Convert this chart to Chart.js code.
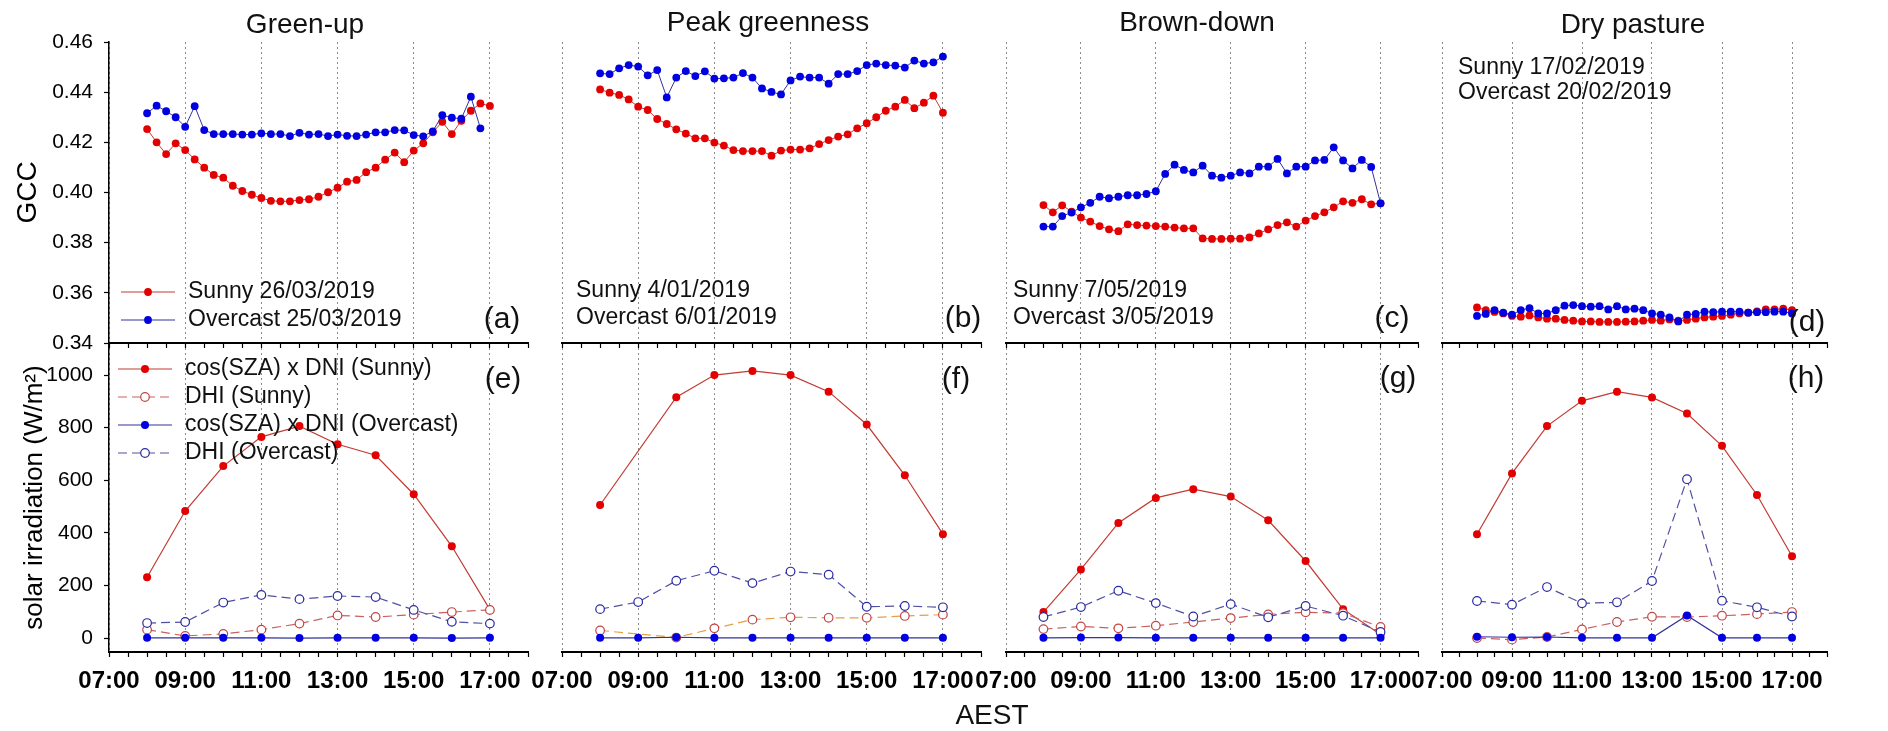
<!DOCTYPE html>
<html>
<head>
<meta charset="utf-8">
<title>GCC and solar irradiation</title>
<script src="https://cdn.jsdelivr.net/npm/chart.js@4.4.1/dist/chart.umd.min.js"></script>
<style>
  html, body { margin: 0; padding: 0; background: #fff; }
  #fig { position: relative; width: 1888px; height: 731px; overflow: hidden;
         font-family: "Liberation Sans", Arial, sans-serif; color: #111; }
  #fig canvas { position: absolute; }
  .lbl { position: absolute; white-space: nowrap; line-height: 1; transform: translate(-50%, -50%); }
</style>
</head>
<body>
<div id="fig">
  <div class="lbl" style="left:305px;top:24px;font-size:28px">Green-up</div>
  <div class="lbl" style="left:768px;top:22px;font-size:28px">Peak greenness</div>
  <div class="lbl" style="left:1197px;top:22px;font-size:28px">Brown-down</div>
  <div class="lbl" style="left:1633px;top:24px;font-size:28px">Dry pasture</div>

  <div class="lbl" style="left:502px;top:318px;font-size:30px">(a)</div>
  <div class="lbl" style="left:963px;top:317px;font-size:30px">(b)</div>
  <div class="lbl" style="left:1392px;top:317px;font-size:30px">(c)</div>
  <div class="lbl" style="left:1807px;top:321px;font-size:30px">(d)</div>
  <div class="lbl" style="left:503px;top:378px;font-size:30px">(e)</div>
  <div class="lbl" style="left:956px;top:378px;font-size:30px">(f)</div>
  <div class="lbl" style="left:1398px;top:377px;font-size:30px">(g)</div>
  <div class="lbl" style="left:1806px;top:377px;font-size:30px">(h)</div>

  <div class="lbl" style="left:992px;top:715px;font-size:28px">AEST</div>
</div>
<script>
const FONT = '"Liberation Sans", Arial, sans-serif';
Chart.defaults.font.family = FONT;
Chart.defaults.color = '#000';

// sampling times
const gccTimes = ['08:00','08:15','08:30','08:45','09:00','09:15','09:30','09:45',
  '10:00','10:15','10:30','10:45','11:00','11:15','11:30','11:45',
  '12:00','12:15','12:30','12:45','13:00','13:15','13:30','13:45',
  '14:00','14:15','14:30','14:45','15:00','15:15','15:30','15:45',
  '16:00','16:15','16:30','16:45','17:00'];
const hourTimes = ['08:00','09:00','10:00','11:00','12:00','13:00','14:00','15:00','16:00','17:00'];

// axis ticks
const tickLabels = ['07:00','09:00','11:00','13:00','15:00','17:00'];
const gccTicks = [0.34, 0.36, 0.38, 0.40, 0.42, 0.44, 0.46];
const irrTicks = [0, 200, 400, 600, 800, 1000];

const sunnyDates = ['26/03/2019', '4/01/2019', '7/05/2019', '17/02/2019'];
const overcastDates = ['25/03/2019', '6/01/2019', '3/05/2019', '20/02/2019'];

// GCC, green-up
const gccGreenSunny = [0.4253,0.4200,0.4153,0.4196,0.4169,0.4132,0.4099,0.4070,0.4059,0.4027,0.4006,0.3991,0.3978,0.3967,0.3965,0.3965,0.3970,0.3973,0.3983,0.4001,0.4019,0.4043,0.4050,0.4081,0.4099,0.4131,0.4159,0.4121,0.4167,0.4196,0.4240,0.4282,0.4233,0.4286,0.4326,0.4355,0.4345];
const gccGreenOvercast = [0.4316,0.4346,0.4324,0.4300,0.4262,0.4344,0.4249,0.4233,0.4233,0.4233,0.4231,0.4231,0.4236,0.4233,0.4233,0.4225,0.4238,0.4231,0.4233,0.4225,0.4231,0.4226,0.4225,0.4231,0.4240,0.4240,0.4249,0.4248,0.4229,0.4224,0.4244,0.4308,0.4298,0.4294,0.4382,0.4256,null];
// GCC, peak greenness
const gccPeakSunny = [0.4411,0.4398,0.4389,0.4371,0.4342,0.4329,0.4293,0.4273,0.4252,0.4235,0.4216,0.4216,0.4199,0.4187,0.4169,0.4165,0.4165,0.4165,0.4147,0.4167,0.4171,0.4171,0.4176,0.4193,0.4209,0.4223,0.4232,0.4256,0.4276,0.4300,0.4326,0.4342,0.4369,0.4336,0.4358,0.4386,0.4318];
const gccPeakOvercast = [0.4475,0.4472,0.4495,0.4508,0.4502,0.4467,0.4488,0.4379,0.4458,0.4484,0.4464,0.4483,0.4454,0.4455,0.4458,0.4476,0.4458,0.4415,0.4401,0.4391,0.4447,0.4462,0.4458,0.4458,0.4434,0.4472,0.4472,0.4484,0.4508,0.4514,0.4508,0.4506,0.4498,0.4526,0.4514,0.4519,0.4542];
// GCC, brown-down
const gccBrownSunny = [0.3950,0.3921,0.3949,0.3924,0.3900,0.3884,0.3866,0.3853,0.3846,0.3873,0.3870,0.3868,0.3866,0.3864,0.3860,0.3857,0.3857,0.3817,0.3815,0.3815,0.3816,0.3816,0.3821,0.3837,0.3853,0.3870,0.3881,0.3864,0.3888,0.3906,0.3921,0.3941,0.3965,0.3959,0.3973,0.3953,0.3957];
const gccBrownOvercast = [0.3864,0.3864,0.3906,0.3920,0.3941,0.3959,0.3983,0.3977,0.3983,0.3989,0.3989,0.3994,0.4005,0.4074,0.4111,0.4090,0.4080,0.4107,0.4067,0.4059,0.4067,0.4080,0.4076,0.4103,0.4103,0.4134,0.4076,0.4103,0.4103,0.4128,0.4130,0.4180,0.4128,0.4096,0.4130,0.4102,0.3957];
// GCC, dry pasture
const gccDrySunny = [0.3542,0.3531,0.3524,0.3518,0.3508,0.3505,0.3510,0.3502,0.3497,0.3497,0.3492,0.3489,0.3486,0.3486,0.3484,0.3484,0.3484,0.3485,0.3486,0.3489,0.3492,0.3489,0.3494,0.3489,0.3492,0.3497,0.3502,0.3505,0.3508,0.3513,0.3518,0.3521,0.3526,0.3534,0.3534,0.3537,0.3531];
const gccDryOvercast = [0.3508,0.3516,0.3531,0.3521,0.3513,0.3531,0.3539,0.3518,0.3518,0.3531,0.3549,0.3551,0.3547,0.3545,0.3547,0.3534,0.3547,0.3534,0.3537,0.3531,0.3518,0.3513,0.3502,0.3486,0.3513,0.3516,0.3525,0.3523,0.3525,0.3525,0.3525,0.3521,0.3523,0.3523,0.3525,0.3525,0.3518];

// solar irradiation (W/m2), hourly
const dniGreenSunny = [231,483,654,765,806,737,695,547,349,108];
const dhiGreenSunny = [32,8,16,32,55,86,80,89,99,107];
const dniGreenOvercast = [1,1,1,1,0,1,1,1,0,1];
const dhiGreenOvercast = [57,61,135,164,148,160,156,107,62,55];

const dniPeakSunny = [506,null,916,1000,1016,1000,937,812,619,395];
const dhiPeakSunny = [29,null,2,37,70,79,77,77,84,89];
const dniPeakOvercast = [1,1,3,1,1,1,1,1,1,1];
const dhiPeakOvercast = [110,137,218,256,209,253,241,119,122,117];

const dniBrownSunny = [99,261,438,533,566,538,448,293,110,14];
const dhiBrownSunny = [34,44,37,47,61,76,90,98,95,42];
const dniBrownOvercast = [1,2,2,1,1,1,1,1,1,1];
const dhiBrownOvercast = [80,118,180,133,82,129,79,122,85,23];

const dniDrySunny = [395,626,806,902,937,915,854,731,544,311];
const dhiDrySunny = [0,-6,4,33,61,81,80,85,91,99];
const dniDryOvercast = [5,3,4,1,1,1,86,1,1,1];
const dhiDryOvercast = [141,127,194,132,136,217,604,142,117,82];

// plot rectangles on the page
const cols = [
  {left: 109, right: 528},
  {left: 562, right: 981},
  {left: 1006, right: 1418},
  {left: 1442, right: 1827}
];
const rows = {
  gcc: {top: 42, bottom: 343},
  irr: {top: 343, bottom: 652}
};

const RED = '#e30000', RED_LINE = '#c23b32', RED_DASH = '#c86060', RED_RING = '#c04646';
const BLUE = '#0000e0', BLUE_LINE = '#33339a', BLUE_DASH = '#5050a2', BLUE_RING = '#2a2aa0';

function toHours(t) {
  const [h, m] = t.split(':').map(Number);
  return h + m / 60;
}
function pairs(times, values) {
  return times.map((t, i) => ({x: toHours(t), y: values[i]}));
}
function isMajor(v) {
  return Number.isInteger(v) && (v - 7) % 2 === 0 && v <= 17;
}

// legend / note text drawn inside the plot area
const insetLegend = {
  id: 'insetLegend',
  afterDraw(chart, args, opts) {
    if (!opts || !opts.display) return;
    const {ctx, chartArea} = chart;
    ctx.save();
    ctx.font = opts.font;
    ctx.textBaseline = 'middle';
    opts.rows.forEach((row, i) => {
      const y = chartArea.top + opts.y + i * opts.rowHeight;
      let tx = chartArea.left + opts.x;
      if (opts.markers) {
        const ds = chart.data.datasets[row];
        const x0 = tx, x1 = tx + opts.lineLength;
        ctx.save();
        ctx.strokeStyle = ds.borderColor;
        ctx.lineWidth = ds.borderWidth;
        ctx.setLineDash(ds.borderDash || []);
        ctx.beginPath(); ctx.moveTo(x0, y); ctx.lineTo(x1, y); ctx.stroke();
        ctx.setLineDash([]);
        ctx.beginPath();
        ctx.arc((x0 + x1) / 2, y, ds.pointRadius, 0, Math.PI * 2);
        ctx.fillStyle = ds.pointBackgroundColor;
        ctx.fill();
        if (ds.pointBorderWidth) {
          ctx.strokeStyle = ds.pointBorderColor;
          ctx.lineWidth = ds.pointBorderWidth;
          ctx.stroke();
        }
        ctx.restore();
        tx = x1 + opts.gap;
      }
      ctx.fillStyle = '#111';
      const text = opts.markers ? chart.data.datasets[row].label : row;
      ctx.fillText(text, tx, y);
    });
    ctx.restore();
  }
};

const fig = document.getElementById('fig');

function buildChart(col, rowKey, datasets, yOpts, legendOpts) {
  const c = cols[col], r = rows[rowKey];
  const hasY = col === 0;
  const top = rowKey === 'gcc';
  const padL = hasY ? 109 : 44, padR = 10;
  const padT = top ? 42 : 40;
  const padB = top ? 30 : 70;
  const xh = top ? 7 : 50;

  const canvas = document.createElement('canvas');
  canvas.width = (c.right - c.left) + padL + padR;
  canvas.height = (r.bottom - r.top) + padT + padB;
  canvas.style.left = (c.left - padL) + 'px';
  canvas.style.top = (r.top - padT) + 'px';
  fig.insertBefore(canvas, fig.firstChild);

  const y = Object.assign({
    display: hasY,
    afterFit: s => { s.width = hasY ? 109 : 0; },
    grid: {drawOnChartArea: false, tickLength: 5, tickColor: '#000', tickWidth: 1.2},
    border: {display: true, color: '#000', width: 1.5}
  }, yOpts);
  y.title.display = hasY;

  return new Chart(canvas, {
    type: 'line',
    data: {datasets},
    plugins: [insetLegend],
    options: {
      responsive: false,
      maintainAspectRatio: false,
      animation: false,
      events: [],
      layout: {padding: {left: hasY ? 0 : padL, right: padR, top: padT, bottom: padB - xh}},
      elements: {line: {tension: 0}},
      plugins: {
        legend: {display: false},
        tooltip: {enabled: false},
        title: {display: false},
        insetLegend: legendOpts || {display: false}
      },
      scales: {
        x: {
          type: 'linear', min: 7, max: 18,
          afterFit: s => { s.height = xh; },
          ticks: {
            display: !top,
            stepSize: 0.5,
            autoSkip: false,
            maxRotation: 0, minRotation: 0,
            padding: 10,
            color: '#000',
            font: {size: 24, weight: 'bold', family: FONT},
            callback: v => isMajor(v) ? tickLabels[(v - 7) / 2] : ''
          },
          grid: {
            drawOnChartArea: true,
            color: ctx => isMajor(ctx.tick.value) ? '#8c8c8c' : 'rgba(0,0,0,0)',
            lineWidth: 1,
            tickColor: '#000',
            tickLength: 5,
            tickWidth: 1.2
          },
          border: {display: true, color: '#000', width: 2, dash: [2, 3]}
        },
        y
      }
    }
  });
}

function gccSets(sunny, overcast, i) {
  return [
    {label: 'Sunny ' + sunnyDates[i], data: pairs(gccTimes, sunny),
     borderColor: RED_LINE, borderWidth: 1, pointRadius: 3.9,
     pointBackgroundColor: RED, pointBorderColor: RED, pointBorderWidth: 0, order: 2},
    {label: 'Overcast ' + overcastDates[i], data: pairs(gccTimes, overcast),
     borderColor: BLUE_LINE, borderWidth: 1, pointRadius: 3.9,
     pointBackgroundColor: BLUE, pointBorderColor: BLUE, pointBorderWidth: 0, order: 1}
  ];
}

function irrSets(dniS, dhiS, dniO, dhiO, dhiSunnyColor) {
  return [
    {label: 'cos(SZA) x DNI (Sunny)', data: pairs(hourTimes, dniS), spanGaps: true,
     borderColor: RED_LINE, borderWidth: 1.2, pointRadius: 4,
     pointBackgroundColor: RED, pointBorderColor: RED, pointBorderWidth: 0, order: 4},
    {label: 'DHI (Sunny)', data: pairs(hourTimes, dhiS), spanGaps: true,
     borderColor: dhiSunnyColor || RED_DASH, borderWidth: 1.2, borderDash: [9, 5], pointRadius: 4.3,
     pointBackgroundColor: '#fff', pointBorderColor: RED_RING, pointBorderWidth: 1.2, order: 3},
    {label: 'cos(SZA) x DNI (Overcast)', data: pairs(hourTimes, dniO),
     borderColor: BLUE_LINE, borderWidth: 1.2, pointRadius: 4,
     pointBackgroundColor: BLUE, pointBorderColor: BLUE, pointBorderWidth: 0, order: 1},
    {label: 'DHI (Overcast)', data: pairs(hourTimes, dhiO),
     borderColor: BLUE_DASH, borderWidth: 1.2, borderDash: [9, 5], pointRadius: 4.3,
     pointBackgroundColor: '#fff', pointBorderColor: BLUE_RING, pointBorderWidth: 1.2, order: 2}
  ];
}

function gccAxis() {
  return {
    min: 0.34, max: 0.46,
    afterBuildTicks: s => { s.ticks = gccTicks.map(v => ({value: v})); },
    ticks: {padding: 11, color: '#000', font: {size: 21, family: FONT},
            callback: v => v.toFixed(2)},
    title: {text: 'GCC', font: {size: 28, family: FONT}, color: '#000', padding: {top: 11, bottom: 0}}
  };
}
function irrAxis() {
  return {
    min: -53, max: 1122,
    afterBuildTicks: s => { s.ticks = irrTicks.map(v => ({value: v})); },
    ticks: {padding: 11, color: '#000', font: {size: 21, family: FONT}, callback: v => String(v)},
    title: {text: 'solar irradiation (W/m²)', font: {size: 26, family: FONT}, color: '#000',
            padding: {top: 19, bottom: 0}}
  };
}

const noteFont = '23px ' + FONT;

// top row: GCC
buildChart(0, 'gcc', gccSets(gccGreenSunny, gccGreenOvercast, 0), gccAxis(),
  {display: true, markers: true, rows: [0, 1], x: 12, y: 250, rowHeight: 28, lineLength: 54, gap: 13, font: noteFont});
buildChart(1, 'gcc', gccSets(gccPeakSunny, gccPeakOvercast, 1), gccAxis(),
  {display: true, markers: false, rows: ['Sunny ' + sunnyDates[1], 'Overcast ' + overcastDates[1]], x: 14, y: 249, rowHeight: 27, font: noteFont});
buildChart(2, 'gcc', gccSets(gccBrownSunny, gccBrownOvercast, 2), gccAxis(),
  {display: true, markers: false, rows: ['Sunny ' + sunnyDates[2], 'Overcast ' + overcastDates[2]], x: 7, y: 249, rowHeight: 27, font: noteFont});
buildChart(3, 'gcc', gccSets(gccDrySunny, gccDryOvercast, 3), gccAxis(),
  {display: true, markers: false, rows: ['Sunny ' + sunnyDates[3], 'Overcast ' + overcastDates[3]], x: 16, y: 26, rowHeight: 25, font: noteFont});

// bottom row: irradiation
buildChart(0, 'irr', irrSets(dniGreenSunny, dhiGreenSunny, dniGreenOvercast, dhiGreenOvercast), irrAxis(),
  {display: true, markers: true, rows: [0, 1, 2, 3], x: 9, y: 26, rowHeight: 28, lineLength: 54, gap: 13, font: noteFont});
buildChart(1, 'irr', irrSets(dniPeakSunny, dhiPeakSunny, dniPeakOvercast, dhiPeakOvercast, '#e4a044'), irrAxis());
buildChart(2, 'irr', irrSets(dniBrownSunny, dhiBrownSunny, dniBrownOvercast, dhiBrownOvercast), irrAxis());
buildChart(3, 'irr', irrSets(dniDrySunny, dhiDrySunny, dniDryOvercast, dhiDryOvercast), irrAxis());
</script>
</body>
</html>
